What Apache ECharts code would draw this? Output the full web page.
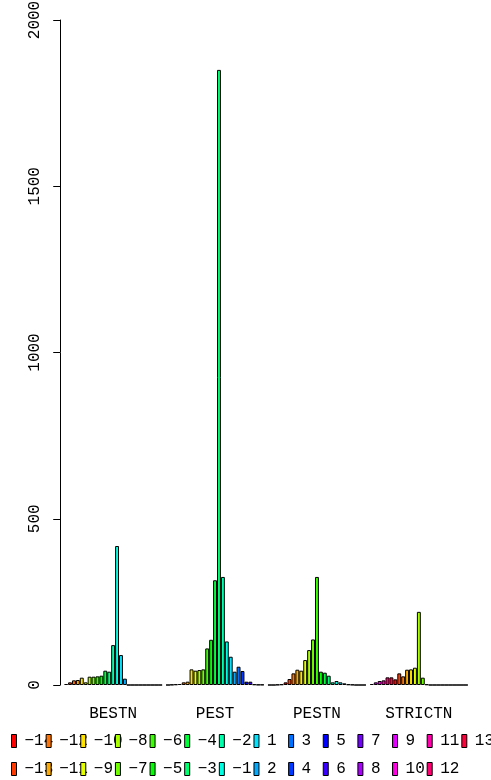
<!DOCTYPE html>
<html>
<head>
<meta charset="utf-8">
<script src="https://cdn.jsdelivr.net/npm/echarts@6/dist/echarts.min.js"></script>
<style>
html, body { margin: 0; padding: 0; background: #fff; }
#chart { width: 491px; height: 780px; }
</style>
</head>
<body>
<div id="chart"></div>
<script>
// groups along the x axis
const groups = ['BESTN', 'PEST', 'PESTN', 'STRICTN'];
// legend labels (27 colours)
const legendLabels = ['−14', '−13', '−12', '−11', '−10', '−9', '−8', '−7', '−6', '−5', '−4', '−3', '−2', '−1',
    '1', '2', '3', '4', '5', '6', '7', '8', '9', '10', '11', '12', '13'];
// counts per group, 25 bars each
const bestn = [3, 8, 14, 15, 22, 8, 25, 25, 26, 28, 43, 40, 120, 418, 90, 19, 0, 0, 0, 0, 0, 0, 0, 0, 0];
const pest = [0, 1, 2, 3, 8, 10, 47, 43, 45, 47, 110, 136, 315, 1850, 325, 131, 85, 40, 55, 42, 10, 10, 2, 1, 1];
const pestn = [0, 0, 1, 2, 8, 18, 35, 46, 43, 75, 105, 137, 325, 40, 37, 28, 8, 12, 8, 5, 2, 1, 0, 0, 0];
const strictn = [3, 8, 12, 14, 23, 23, 17, 35, 26, 46, 47, 52, 220, 22, 2, 0, 0, 0, 0, 0, 0, 0, 0, 0, 0];
const yTicks = [0, 500, 1000, 1500, 2000];

const counts = [bestn, pest, pestn, strictn];
const font = 'Liberation Mono';

// R's rainbow(n)
function rainbow(n) {
    const out = [];
    for (let i = 0; i < n; i++) {
        const h = i / n * 6, k = Math.floor(h), f = h - k;
        let r, g, b;
        switch (k) {
            case 0: r = 1; g = f; b = 0; break;
            case 1: r = 1 - f; g = 1; b = 0; break;
            case 2: r = 0; g = 1; b = f; break;
            case 3: r = 0; g = 1 - f; b = 1; break;
            case 4: r = f; g = 0; b = 1; break;
            default: r = 1; g = 0; b = 1 - f;
        }
        out.push('rgb(' + Math.round(r * 255) + ',' + Math.round(g * 255) + ',' + Math.round(b * 255) + ')');
    }
    return out;
}
const palette = rainbow(legendLabels.length);

// barplot(beside = TRUE) layout: one bar unit wide, one unit gap before each group,
// colours recycled over all bars
const nr = bestn.length;
const span = groups.length * (nr + 1) - 1;
const xMin = 1 - 0.04 * span;
const xMax = groups.length * (nr + 1) + 0.04 * span;
const gridLeft = 48, gridRight = 7;
const barW = (491 - gridLeft - gridRight) / (xMax - xMin);

const barData = [];
counts.forEach(function (arr, g) {
    arr.forEach(function (v, j) {
        barData.push({
            value: [g * (nr + 1) + j + 1.5, v],
            itemStyle: { color: palette[(g * nr + j) % palette.length] }
        });
    });
});
const groupCenters = groups.map(function (n, g) { return g * (nr + 1) + 1 + nr / 2; });

const series = [{
    name: 'counts',
    type: 'bar',
    data: barData,
    barWidth: barW,
    itemStyle: { borderColor: '#000', borderWidth: 1 },
    silent: true
}];
legendLabels.forEach(function (name, i) {
    series.push({
        name: name,
        type: 'line',
        data: [],
        itemStyle: { color: palette[i] },
        lineStyle: { color: palette[i] }
    });
});

// legend filled column by column, two rows, like R's legend(ncol = 14)
const legendCols = [];
for (let c = 0; c * 2 < legendLabels.length; c++) {
    legendCols.push({
        orient: 'vertical',
        left: 11 + c * 34.64,
        top: 733,
        padding: 0,
        itemWidth: 5,
        itemHeight: 13,
        itemGap: 12,
        icon: 'rect',
        selectedMode: false,
        itemStyle: { borderColor: '#000', borderWidth: 1 },
        textStyle: { fontFamily: font, fontSize: 16, lineHeight: 16, color: '#000', padding: [0, 0, 0, 3] },
        data: legendLabels.slice(c * 2, c * 2 + 2)
    });
}

var myChart = echarts.init(document.getElementById('chart'));

let option = {
    animation: false,
    backgroundColor: '#fff',
    grid: { left: gridLeft, right: gridRight, top: 20, bottom: 95, containLabel: false, outerBoundsMode: 'none' },
    legend: legendCols,
    xAxis: {
        type: 'value',
        min: xMin,
        max: xMax,
        axisLine: { show: false },
        axisTick: { show: false },
        splitLine: { show: false },
        axisLabel: {
            customValues: groupCenters,
            margin: 21,
            fontFamily: font,
            fontSize: 16,
            color: '#000',
            formatter: function (v) {
                return groups[Math.round((v - groupCenters[0]) / (nr + 1))];
            }
        }
    },
    yAxis: {
        type: 'value',
        min: yTicks[0],
        max: yTicks[yTicks.length - 1],
        interval: yTicks[1] - yTicks[0],
        axisLine: { show: true, lineStyle: { color: '#000', width: 1 } },
        axisTick: { show: true, length: 7, lineStyle: { color: '#000' } },
        splitLine: { show: false },
        axisLabel: {
            rotate: 90,
            margin: 5,
            fontFamily: font,
            fontSize: 16,
            color: '#000',
            formatter: function (v) { return String(v); }
        }
    },
    series: series
};

myChart.setOption(option);
</script>
</body>
</html>
